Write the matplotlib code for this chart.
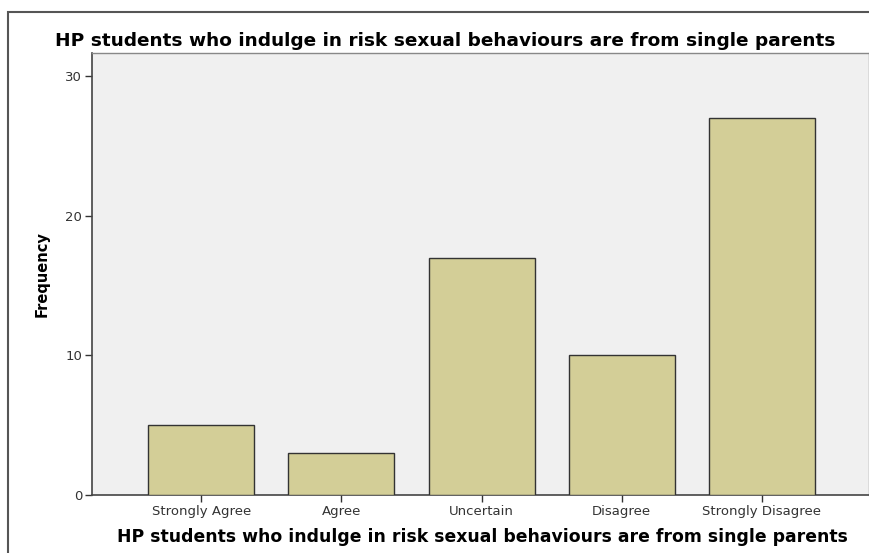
import matplotlib
matplotlib.use("Agg")
import matplotlib.pyplot as plt
from matplotlib.patches import Rectangle

categories = ["Strongly Agree", "Agree", "Uncertain", "Disagree", "Strongly Disagree"]
frequencies = [5, 3, 17, 10, 27]
yticks = [0, 10, 20, 30]
title = "HP students who indulge in risk sexual behaviours are from single parents"

W, H = 870, 553
fig = plt.figure(figsize=(W / 100, H / 100), dpi=100)
fig.patch.set_facecolor("white")

# outer frame
fig.add_artist(Rectangle((8 / W, -0.1), 1.2, 1 - 12 / H + 0.1, transform=fig.transFigure,
                         fill=False, edgecolor="#555555", linewidth=1.5))

ax = fig.add_axes([92 / W, 1 - 495 / H, (869 - 92) / W, (495 - 53) / H])
ax.set_facecolor("#F0F0F0")
x = list(range(len(categories)))
ax.bar(x, frequencies, width=0.757, color="#D3CE97", edgecolor="#333333", linewidth=1.0, zorder=3)
ax.set_xlim(-0.78, 4.765)
ax.set_ylim(0, 31.65)
ax.set_yticks(yticks)
ax.set_xticks(x)
ax.set_xticklabels(categories, fontsize=9.5, family="DejaVu Sans", color="#333333")
ax.set_yticklabels([str(t) for t in yticks], fontsize=9.5, family="DejaVu Sans", color="#333333")
ax.tick_params(axis="both", direction="out", length=5, width=1, color="#333333", pad=2)
for s in ["top", "right"]:
    ax.spines[s].set_color("#888888")
    ax.spines[s].set_linewidth(1)
for s in ["left", "bottom"]:
    ax.spines[s].set_color("#444444")
    ax.spines[s].set_linewidth(1.2)

fig.text(445 / W, 1 - 46 / H, title, ha="center", va="baseline", fontsize=13.3,
         fontweight="bold", family="DejaVu Sans")
fig.text(482 / W, 1 - 541.5 / H, title, ha="center", va="baseline", fontsize=12.4,
         fontweight="bold", family="DejaVu Sans")
fig.text(42 / W, 1 - 274 / H, "Frequency", ha="center", va="center", rotation=90,
         fontsize=10.5, fontweight="bold", family="Liberation Sans Narrow")

fig.savefig("out.png", dpi=100)
